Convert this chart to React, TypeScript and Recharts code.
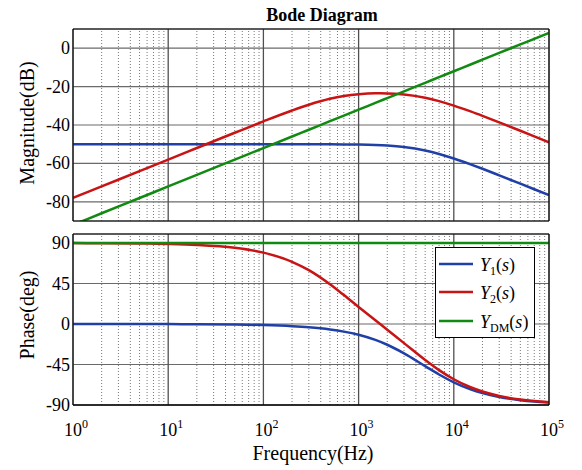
import React from 'react';
import { LineChart, Line, XAxis, YAxis, CartesianGrid, ReferenceLine, Legend, Label } from 'recharts';

const FONT = '"Liberation Serif", "Times New Roman", serif';

// Frequencies (Hz)
const freqs = [1, 2, 5, 10, 20, 50, 100, 200, 300, 500, 700, 1000, 1500, 2000, 3000, 5000, 7000, 10000, 15000, 20000, 30000, 50000, 70000, 100000];

// Magnitude (dB)
const magY1 = [-50, -50, -50, -50, -50, -50, -50, -50.01, -50.02, -50.05, -50.1, -50.19, -50.42, -50.72, -51.48, -53.29, -55.08, -57.43, -60.49, -62.81, -66.21, -70.58, -73.48, -76.57];
const magY2 = [-78, -71.98, -64.02, -58, -51.99, -44.05, -38.12, -32.45, -29.45, -26.36, -24.93, -23.96, -23.5, -23.54, -24.09, -25.78, -27.55, -29.88, -32.93, -35.25, -38.65, -43.01, -45.92, -49.01];
const magYDM = [-92, -85.98, -78.02, -72, -65.98, -58.02, -52, -45.98, -42.46, -38.02, -35.1, -32, -28.48, -25.98, -22.46, -18.02, -15.1, -12, -8.48, -5.98, -2.46, 1.98, 4.9, 8];

// Phase (deg)
const phY1 = [-0.01, -0.02, -0.06, -0.12, -0.24, -0.61, -1.22, -2.44, -3.65, -6.07, -8.47, -12.01, -17.7, -23.05, -32.55, -46.77, -56.12, -64.83, -72.6, -76.78, -81.1, -84.63, -86.16, -87.31];
const phY2 = [89.89, 89.79, 89.46, 88.92, 87.85, 84.63, 79.32, 69.13, 59.78, 44.12, 32.13, 18.95, 4.1, -6.35, -21.24, -39.93, -51.22, -61.4, -70.31, -75.06, -79.95, -83.94, -85.67, -86.97];
const phYDM = [90, 90, 90, 90, 90, 90, 90, 90, 90, 90, 90, 90, 90, 90, 90, 90, 90, 90, 90, 90, 90, 90, 90, 90];

// Axis ticks
const majorFreqs = [1, 10, 100, 1000, 10000, 100000];
const decadeExponents = ['0', '1', '2', '3', '4', '5'];
const minorFreqs = [
  2, 3, 4, 5, 6, 7, 8, 9,
  20, 30, 40, 50, 60, 70, 80, 90,
  200, 300, 400, 500, 600, 700, 800, 900,
  2000, 3000, 4000, 5000, 6000, 7000, 8000, 9000,
  20000, 30000, 40000, 50000, 60000, 70000, 80000, 90000,
];
const allFreqTicks = [...majorFreqs, ...minorFreqs].sort((a, b) => a - b);
const magTicks = [-80, -60, -40, -20, 0];
const phaseTicks = [-90, -45, 0, 45, 90];

// Series
const seriesKeys = ['y1', 'y2', 'ydm'];
const seriesSubs = ['1', '2', 'DM'];
const seriesColors = ['#2040a8', '#c81414', '#108a10'];

const magData = freqs.map((f, i) => ({ f, y1: magY1[i], y2: magY2[i], ydm: magYDM[i] }));
const phData = freqs.map((f, i) => ({ f, y1: phY1[i], y2: phY2[i], ydm: phYDM[i] }));

const xCommon = {
  dataKey: 'f',
  type: 'number' as const,
  scale: 'log' as const,
  domain: [1, 100000],
  allowDataOverflow: true,
};

const XTick = (props: any) => {
  const { x, y, payload } = props;
  const idx = majorFreqs.indexOf(payload.value);
  return (
    <text x={x - 9} y={y + 31} fontSize={18} fill="#000" textAnchor="start" style={{ fontFamily: FONT }}>
      <tspan>10</tspan>
      <tspan dy={-8} fontSize={12}>{decadeExponents[idx]}</tspan>
    </text>
  );
};

const YTick = (props: any) => {
  const { x, y, payload } = props;
  return (
    <text x={x} y={y + 6} fontSize={18} fill="#000" textAnchor="end" style={{ fontFamily: FONT }}>
      {String(payload.value)}
    </text>
  );
};

const LegendBox = (props: any) => {
  const payload = props.payload || [];
  const rowY = [17, 45, 74];
  return (
    <svg width={100} height={91} style={{ display: 'block' }}>
      <rect x={0.5} y={0.5} width={99} height={90} fill="#fff" stroke="#000" strokeWidth={1} />
      {payload.map((e: any, i: number) => {
        const k = seriesKeys.indexOf(e.dataKey);
        const yy = rowY[i];
        return (
          <g key={i}>
            <line x1={4} x2={38} y1={yy} y2={yy} stroke={e.color} strokeWidth={2.5} />
            <text x={45} y={yy + 6.5} fontSize={18} fill="#000" style={{ fontFamily: FONT }}>
              <tspan fontStyle="italic">Y</tspan>
              <tspan fontSize={12} dy={4}>{seriesSubs[k]}</tspan>
              <tspan dy={-4}>(</tspan>
              <tspan fontStyle="italic">s</tspan>
              <tspan>)</tspan>
            </text>
          </g>
        );
      })}
    </svg>
  );
};

const gridLines = () => [
  ...minorFreqs.map((f) => (
    <ReferenceLine key={'mn' + f} x={f} stroke="#777" strokeWidth={1} strokeDasharray="1 2" />
  )),
  ...majorFreqs.map((f) => (
    <ReferenceLine key={'mj' + f} x={f} stroke="#505050" strokeWidth={1.3} />
  )),
];

const lines = () =>
  seriesKeys.map((k, i) => (
    <Line
      key={k}
      dataKey={k}
      name={k}
      type="monotone"
      stroke={seriesColors[i]}
      strokeWidth={2.5}
      dot={false}
      isAnimationActive={false}
    />
  ));

export default function App() {
  return (
    <div style={{ position: 'absolute', left: 0, top: 0, width: 582, height: 470, background: '#fff', fontFamily: FONT }}>
      <div style={{ position: 'absolute', left: 0, top: 0 }}>
        <LineChart width={582} height={228} data={magData} margin={{ top: 29, right: 33, bottom: 7, left: 28 }} style={{ fontFamily: FONT }}>
          <CartesianGrid vertical={false} stroke="#6a6a6a" strokeWidth={1.2} />
          {gridLines()}
          <XAxis {...xCommon} xAxisId={0} orientation="bottom" mirror ticks={allFreqTicks} interval={0} tick={false} tickSize={5} axisLine={{ stroke: '#000' }} tickLine={{ stroke: '#000' }} />
          <XAxis {...xCommon} xAxisId="top" orientation="top" mirror ticks={allFreqTicks} interval={0} tick={false} tickSize={5} axisLine={{ stroke: '#000' }} tickLine={{ stroke: '#000' }}
            label={<Label content={() => (
              <text x={322} y={21} textAnchor="middle" fontSize={18} fontWeight="bold" fill="#000" style={{ fontFamily: FONT }}>Bode Diagram</text>
            )} />}
          />
          <YAxis yAxisId={0} domain={[-90, 10]} ticks={magTicks} interval={0} allowDataOverflow width={45} tickSize={0} tickMargin={3}
            tick={<YTick />} axisLine={{ stroke: '#000' }}
            label={<Label content={() => (
              <text x={34} y={123} transform="rotate(-90, 34, 123)" textAnchor="middle" fontSize={20} fill="#000" style={{ fontFamily: FONT }}>Magnitude(dB)</text>
            )} />}
          />
          <YAxis yAxisId="right" orientation="right" mirror domain={[-90, 10]} ticks={magTicks} interval={0} allowDataOverflow tick={false} tickSize={5} axisLine={{ stroke: '#000' }} tickLine={{ stroke: '#000' }} />
          {lines()}
        </LineChart>
      </div>
      <div style={{ position: 'absolute', left: 0, top: 228 }}>
        <LineChart width={582} height={242} data={phData} margin={{ top: 6, right: 33, bottom: 25, left: 28 }} style={{ fontFamily: FONT }}>
          <CartesianGrid vertical={false} stroke="#6a6a6a" strokeWidth={1.2} />
          {gridLines()}
          <XAxis {...xCommon} xAxisId={0} orientation="bottom" ticks={majorFreqs} interval={0} height={40} tickSize={0} tickMargin={0} tick={<XTick />} axisLine={{ stroke: '#000' }}
            label={<Label content={() => (
              <text x={313} y={232} textAnchor="middle" fontSize={20} fill="#000" style={{ fontFamily: FONT }}>Frequency(Hz)</text>
            )} />}
          />
          <XAxis {...xCommon} xAxisId="bm" orientation="bottom" mirror ticks={allFreqTicks} interval={0} tick={false} tickSize={5} axisLine={{ stroke: '#000' }} tickLine={{ stroke: '#000' }} />
          <XAxis {...xCommon} xAxisId="top" orientation="top" mirror ticks={allFreqTicks} interval={0} tick={false} tickSize={5} axisLine={{ stroke: '#000' }} tickLine={{ stroke: '#000' }} />
          <YAxis yAxisId={0} domain={[-90, 100]} ticks={phaseTicks} interval={0} allowDataOverflow width={45} tickSize={0} tickMargin={3}
            tick={<YTick />} axisLine={{ stroke: '#000' }}
            label={<Label content={() => (
              <text x={34} y={87} transform="rotate(-90, 34, 87)" textAnchor="middle" fontSize={20} fill="#000" style={{ fontFamily: FONT }}>Phase(deg)</text>
            )} />}
          />
          <YAxis yAxisId="right" orientation="right" mirror domain={[-90, 100]} ticks={phaseTicks} interval={0} allowDataOverflow tick={false} tickSize={5} axisLine={{ stroke: '#000' }} tickLine={{ stroke: '#000' }} />
          {lines()}
          <Legend layout="vertical" align="center" verticalAlign="middle" content={<LegendBox />}
            wrapperStyle={{ position: 'absolute', left: 435, top: 19, width: 100, height: 91 }} />
        </LineChart>
      </div>
    </div>
  );
}
